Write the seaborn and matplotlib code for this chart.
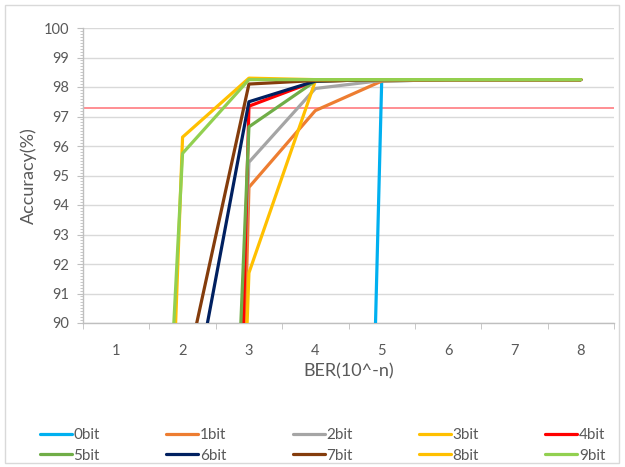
# Accuracy vs BER line chart, one line per number of protected bits
import seaborn as sns
import pandas as pd
import matplotlib.pyplot as plt
from matplotlib.patches import Rectangle
from matplotlib.ticker import MultipleLocator

# x positions are BER exponents n (BER = 10^-n)
ber = [1, 2, 3, 4, 5, 6, 7, 8]
bits = ['0bit', '1bit', '2bit', '3bit', '4bit', '5bit', '6bit', '7bit', '8bit', '9bit']

# accuracy (%), values far below 90 sit under the axis
acc_0bit = [10, 10, 10, 10, 98.2, 98.25, 98.25, 98.25]
acc_1bit = [10, 10, 94.6, 97.2, 98.2, 98.25, 98.25, 98.25]
acc_2bit = [10, 40, 95.45, 97.95, 98.22, 98.25, 98.25, 98.25]
acc_3bit = [10, 30, 91.7, 98.2, 98.25, 98.25, 98.25, 98.25]
acc_4bit = [10, 10, 97.35, 98.2, 98.25, 98.25, 98.25, 98.25]
acc_5bit = [10, 42, 96.65, 98.2, 98.25, 98.25, 98.25, 98.25]
acc_6bit = [10, 85.5, 97.5, 98.2, 98.25, 98.25, 98.25, 98.25]
acc_7bit = [10, 87.8, 98.1, 98.22, 98.25, 98.25, 98.25, 98.25]
acc_8bit = [36, 96.3, 98.3, 98.25, 98.25, 98.25, 98.25, 98.25]
acc_9bit = [52, 95.75, 98.25, 98.25, 98.25, 98.25, 98.25, 98.25]
threshold = 97.28

colors = ['#00B0F0', '#ED7D31', '#A5A5A5', '#FFC000', '#FF0000',
          '#70AD47', '#002060', '#843C0C', '#FFC000', '#92D050']

all_acc = [acc_0bit, acc_1bit, acc_2bit, acc_3bit, acc_4bit,
           acc_5bit, acc_6bit, acc_7bit, acc_8bit, acc_9bit]

# long form table for seaborn
rows = []
for name, vals in zip(bits, all_acc):
    for x, v in zip(ber, vals):
        rows.append({'BER': x, 'Accuracy': v, 'series': name})
df = pd.DataFrame(rows)

sns.set_style('white')
plt.rcParams['font.family'] = ['Lato', 'DejaVu Sans']
text_col = '#595959'

fig = plt.figure(figsize=(6.25, 4.67), dpi=100)
ax = fig.add_axes([83 / 625, 1 - 323 / 467, (614 - 83) / 625, (323 - 28) / 467])

ax.axhline(threshold, color='#FF7C80', linewidth=1.2, zorder=1)

sns.lineplot(data=df, x='BER', y='Accuracy', hue='series', hue_order=bits,
             palette=colors, linewidth=2.3, sort=False, ax=ax, zorder=3)

ax.set_xlim(0.5, 8.5)
ax.set_ylim(90, 100)
ax.set_xticks(ber)
ax.xaxis.set_minor_locator(MultipleLocator(1, offset=0.5))
ax.yaxis.set_major_locator(MultipleLocator(1))
ax.yaxis.set_minor_locator(MultipleLocator(0.1))
ax.tick_params(axis='x', which='major', length=0, pad=15, labelsize=10.5, labelcolor=text_col)
ax.tick_params(axis='x', which='minor', length=4, color='#BFBFBF', direction='out', bottom=True)
ax.tick_params(axis='y', which='major', length=4, color='#BFBFBF', pad=6, labelsize=10.5,
               labelcolor=text_col, left=True)
ax.tick_params(axis='y', which='minor', length=2.5, color='#BFBFBF', left=True)

ax.grid(axis='y', color='#D9D9D9', linewidth=1)
ax.set_axisbelow(True)
for s in ['top', 'right']:
    ax.spines[s].set_visible(False)
for s in ['left', 'bottom']:
    ax.spines[s].set_color('#BFBFBF')
    ax.spines[s].set_linewidth(1)

ax.set_xlabel('BER(10^-n)', fontsize=13, color=text_col, labelpad=4)
ax.set_ylabel('Accuracy(%)', fontsize=13, color=text_col, labelpad=5)

# legend reads row by row in the reference, matplotlib fills columns first
handles, labels = ax.get_legend_handles_labels()
ax.get_legend().remove()
order = [0, 5, 1, 6, 2, 7, 3, 8, 4, 9]
fig.legend([handles[i] for i in order], [labels[i] for i in order], ncol=5, loc='center',
           bbox_to_anchor=(0.516, 1 - 445.5 / 467), frameon=False, fontsize=11,
           handlelength=2.1, handletextpad=0.1, columnspacing=4.35, labelspacing=0.4,
           labelcolor=text_col)

# chart border
fig.patches.append(Rectangle((5 / 625, 4 / 467), 614 / 625, 458 / 467, transform=fig.transFigure,
                             fill=False, edgecolor='#D9D9D9', linewidth=1))

fig.savefig('out.png', dpi=100)
